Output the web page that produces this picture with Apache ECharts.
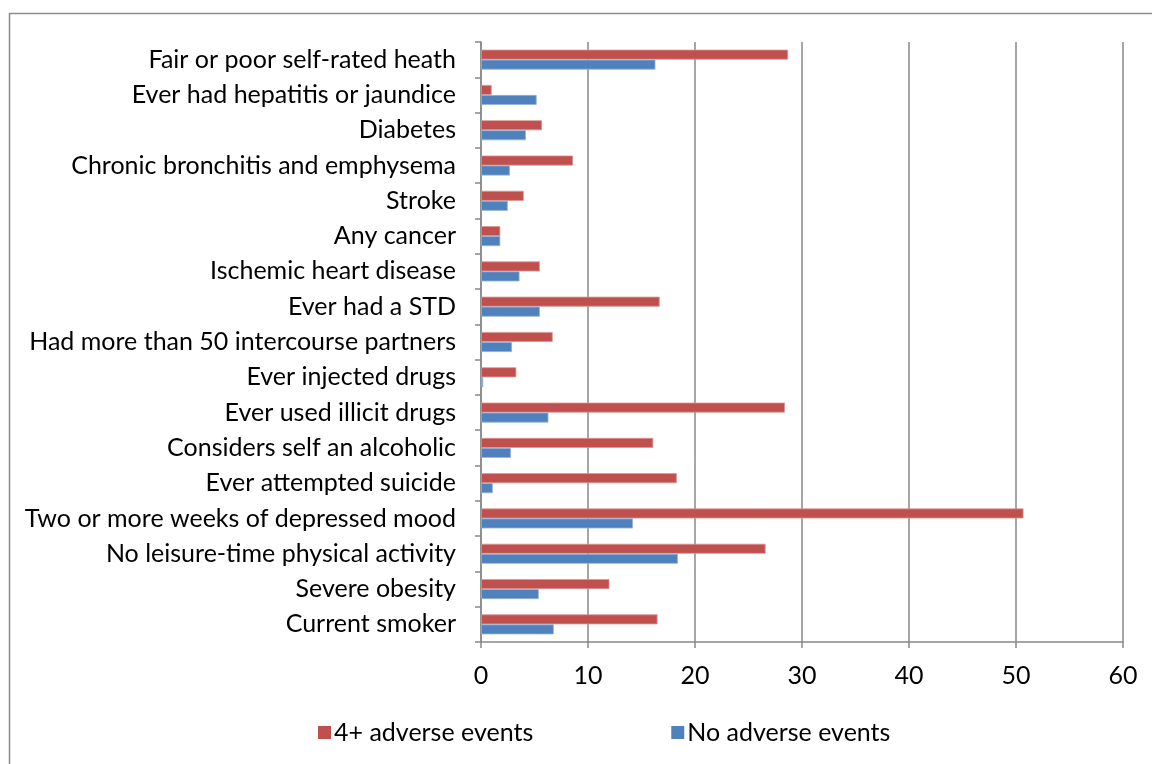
<!DOCTYPE html>
<html>
<head>
<meta charset="utf-8">
<script src="https://cdn.jsdelivr.net/npm/echarts@6/dist/echarts.min.js"></script>
<style>
html,body{margin:0;padding:0;background:#fff;}
#c{width:1152px;height:764px;}
</style>
</head>
<body>
<div id="c"></div>
<script>
const categories = [
  "Fair or poor self-rated heath",
  "Ever had hepatitis or jaundice",
  "Diabetes",
  "Chronic bronchitis and emphysema",
  "Stroke",
  "Any cancer",
  "Ischemic heart disease",
  "Ever had a STD",
  "Had more than 50 intercourse partners",
  "Ever injected drugs",
  "Ever used illicit drugs",
  "Considers self an alcoholic",
  "Ever attempted suicide",
  "Two or more weeks of depressed mood",
  "No leisure-time physical activity",
  "Severe obesity",
  "Current smoker"
];
const adverse4 = [28.7, 1.0, 5.7, 8.6, 4.0, 1.8, 5.5, 16.7, 6.7, 3.3, 28.4, 16.1, 18.3, 50.7, 26.6, 12.0, 16.5];
const noAdverse = [16.3, 5.2, 4.2, 2.7, 2.5, 1.8, 3.6, 5.5, 2.9, 0.2, 6.3, 2.8, 1.1, 14.2, 18.4, 5.4, 6.8];
const xTicks = [0, 10, 20, 30, 40, 50, 60];
const seriesNames = ["4+ adverse events", "No adverse events"];

const FONT = "Lato, 'Open Sans', sans-serif";
const chart = echarts.init(document.getElementById('c'));
chart.setOption({
  animation: false,
  backgroundColor: '#fff',
  graphic: [{
    type: 'rect',
    shape: {x: 9.5, y: 13.5, width: 1300, height: 900},
    style: {fill: 'none', stroke: '#8c8c8c', lineWidth: 1.5},
    silent: true, z: -1
  }],
  legend: {
    data: seriesNames,
    top: 720,
    left: 318,
    padding: 0,
    itemWidth: 13,
    itemHeight: 13,
    itemGap: 138,
    icon: 'rect',
    itemStyle: {borderWidth: 0},
    textStyle: {fontFamily: FONT, fontSize: 25, lineHeight: 24, color: '#000', padding: [0, 0, 0, -2]}
  },
  grid: {left: 481, right: 29, top: 42, bottom: 122, containLabel: false},
  xAxis: {
    type: 'value',
    min: xTicks[0],
    max: xTicks[xTicks.length - 1],
    interval: 10,
    axisLine: {show: true, lineStyle: {color: '#888', width: 1.5}},
    axisTick: {show: true, length: 6, lineStyle: {color: '#888', width: 1.5}},
    splitLine: {show: true, lineStyle: {color: '#888', width: 1.5}},
    axisLabel: {fontFamily: FONT, fontSize: 25, color: '#000', margin: 21,
      formatter: v => xTicks.indexOf(v) >= 0 ? String(v) : ''}
  },
  yAxis: {
    type: 'category',
    data: categories,
    inverse: true,
    axisLine: {show: true, lineStyle: {color: '#888', width: 1.5}},
    axisTick: {show: true, length: 6, lineStyle: {color: '#888', width: 1.5}},
    axisLabel: {fontFamily: FONT, fontSize: 25, color: '#000', margin: 25}
  },
  series: [
    {
      name: seriesNames[0], type: 'bar', data: adverse4,
      barWidth: 10, barGap: '0%',
      itemStyle: {color: '#C0504D', borderColor: '#D99694', borderWidth: 0.8}
    },
    {
      name: seriesNames[1], type: 'bar', data: noAdverse,
      barWidth: 10, barGap: '0%',
      itemStyle: {color: '#4F81BD', borderColor: '#95B3D7', borderWidth: 0.8}
    }
  ]
});
</script>
</body>
</html>
